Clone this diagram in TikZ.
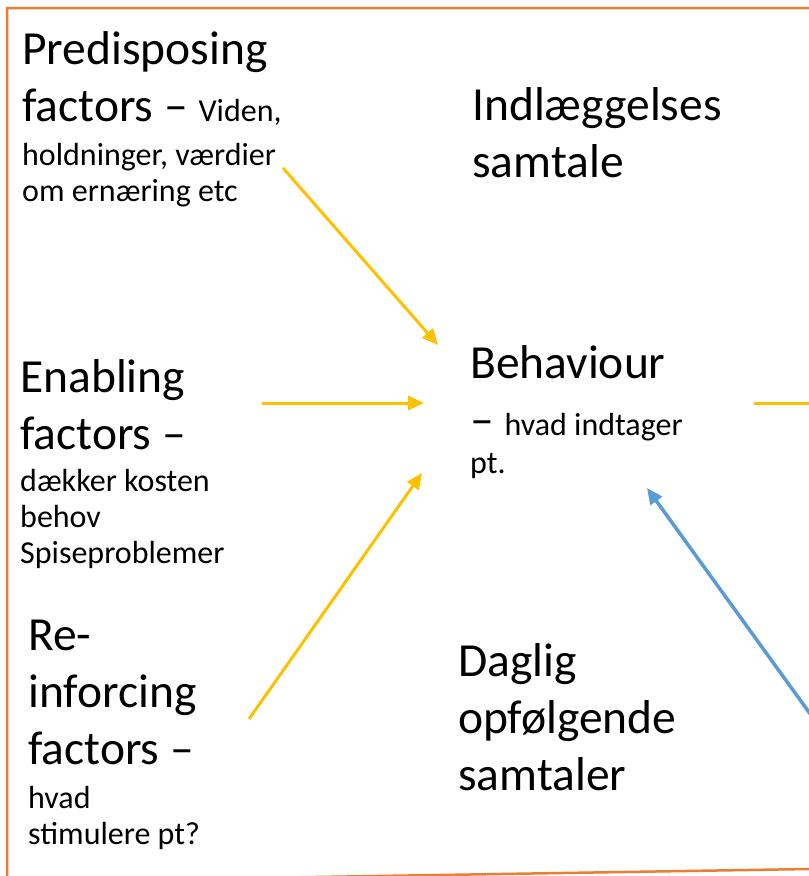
\documentclass[tikz,border=0pt]{standalone}
\usepackage{fontspec}
\setmainfont{Carlito}
\usetikzlibrary{arrows.meta}
\definecolor{frame}{HTML}{ED7D31}
\definecolor{gold}{HTML}{FFC000}
\definecolor{sky}{HTML}{5B9BD5}
\newcommand{\fbig}{\fontsize{47.5}{57}\selectfont}
\newcommand{\fsmall}{\fontsize{32}{36}\selectfont}
\tikzset{
  lbl/.style={inner sep=0pt, anchor=base west, align=left, font=\fbig},
  cause/.style={gold, line width=3pt, -{Triangle[length=16pt,width=14pt]}},
}

\begin{document}
\begin{tikzpicture}[x=1pt,y=-1pt]
    \useasboundingbox (0,0) rectangle (809,876);
    \draw[frame, line width=2.5pt] (809,8) -- (7,8) -- (7,882) -- (809,869);

    \node[lbl] (pre) at (22,201) {Predisposing\\
        factors – {\fsmall Viden,}\\[-13pt]
        {\fsmall holdninger, værdier}\\[-21pt]
        {\fsmall om ernæring etc}};
    \node[lbl] (ind) at (472,177) {Indlæggelses\\ samtale};
    \node[lbl] (ena) at (20,563) {Enabling\\
        factors –\\[-15pt]
        {\fsmall dækker kosten}\\[-21pt]
        {\fsmall behov}\\[-21pt]
        {\fsmall Spiseproblemer}};
    \node[lbl] (beh) at (470,473) {Behaviour\\
        – {\fsmall hvad indtager}\\[-19pt]
        {\fsmall pt.}};
    \node[lbl] (rei) at (28,844) {Re-\\ inforcing\\
        factors –\\[-13pt]
        {\fsmall hvad}\\[-21pt]
        {\fsmall stimulere pt?}};
    \node[lbl] (dag) at (458,790) {Daglig\\ opfølgende\\ samtaler};

    \coordinate (preE) at (283,168);
    \coordinate (enaE) at (262,403);
    \coordinate (reiE) at (249,719);
    \coordinate (behN) at (438,345);
    \coordinate (behW) at (424,403);
    \coordinate (behSW) at (422,473);
    \coordinate (behE) at (754,403);
    \coordinate (out) at (812,403);
    \coordinate (behS) at (647,488);
    \coordinate (dagE) at (811,715);

    \draw[cause] (preE) -- (behN);
    \draw[cause] (enaE) -- (behW);
    \draw[cause] (reiE) -- (behSW);
    \draw[gold, line width=3pt] (behE) -- (out);
    \draw[sky, line width=3.5pt, -{Triangle[length=16pt,width=14pt]}] (dagE) -- (behS);
\end{tikzpicture}
\end{document}
